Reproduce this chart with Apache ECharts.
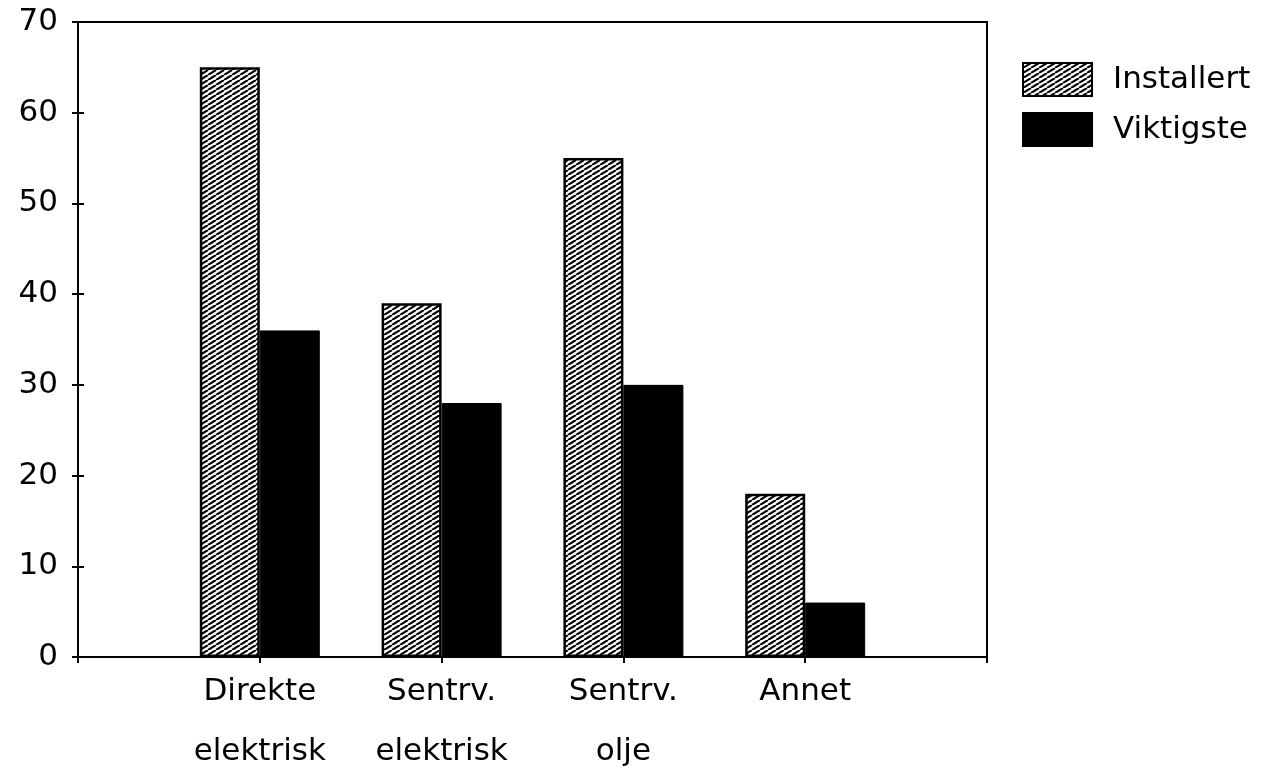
<!DOCTYPE html>
<html>
<head>
<meta charset="utf-8">
<script src="https://cdn.jsdelivr.net/npm/echarts@6/dist/echarts.min.js"></script>
<style>
html,body{margin:0;padding:0;background:#fff;}
#c{width:1277px;height:771px;}
</style>
</head>
<body>
<div id="c"></div>
<script>
const categories = ['', 'Direkte\nelektrisk', 'Sentrv.\nelektrisk', 'Sentrv.\nolje', 'Annet', ''];
const installert = [null, 65, 39, 55, 18, null];
const viktigste = [null, 36, 28, 30, 6, null];
const seriesNames = ['Installert', 'Viktigste'];
const yMin = 0, yMax = 70, yStep = 10;

const FONT = 'DejaVu Sans';

// hatch pattern
const pc = document.createElement('canvas');
pc.width = 8; pc.height = 5;
const g = pc.getContext('2d');
g.fillStyle = '#fff'; g.fillRect(0, 0, 8, 5);
g.strokeStyle = '#000'; g.lineWidth = 2.1;
[-8, 0, 8].forEach(function (dx) {
  g.beginPath(); g.moveTo(dx, 5); g.lineTo(dx + 8, 0); g.stroke();
});
const hatch = { image: pc, repeat: 'repeat' };

const chart = echarts.init(document.getElementById('c'), null, { renderer: 'canvas' });
chart.setOption({
  backgroundColor: '#fff',
  animation: false,
  grid: { left: 78, right: 290, top: 22, bottom: 114, show: true, borderColor: '#000', borderWidth: 2, containLabel: false, outerBoundsMode: 'none' },
  legend: {
    orient: 'vertical', left: 1022, top: 62, padding: 0,
    icon: 'rect', itemWidth: 69, itemHeight: 33, itemGap: 15,
    textStyle: { fontFamily: FONT, fontSize: 31, color: '#000', padding: [0, 0, 0, 16] },
    data: seriesNames
  },
  xAxis: {
    type: 'category', boundaryGap: false, data: categories,
    axisLine: { lineStyle: { color: '#000', width: 2 } },
    axisTick: { show: true, length: 6, lineStyle: { color: '#000', width: 2 } },
    axisLabel: { interval: 0, fontFamily: FONT, fontSize: 31, color: '#000', lineHeight: 60, margin: 5 },
    splitLine: { show: false }
  },
  yAxis: [{
    type: 'value', min: yMin, max: yMax, interval: yStep,
    axisLine: { show: true, lineStyle: { color: '#000', width: 2 } },
    axisTick: { show: true, length: 6, lineStyle: { color: '#000', width: 2 } },
    axisLabel: { fontFamily: FONT, fontSize: 31, color: '#000', margin: 20, padding: [8, 0, 0, 0] },
    splitLine: { show: false }
  }, {
    type: 'value', min: yMin, max: yMax, interval: yStep, position: 'left',
    axisLine: { show: false },
    axisTick: { show: true, inside: true, length: 6, lineStyle: { color: '#000', width: 2 } },
    axisLabel: { show: false },
    splitLine: { show: false }
  }],
  series: [{
    name: seriesNames[0], type: 'bar', data: installert, barWidth: 60, barGap: '0%',
    itemStyle: { color: hatch, borderColor: '#000', borderWidth: 2.5 }
  }, {
    name: seriesNames[1], type: 'bar', data: viktigste, barWidth: 60, barGap: '0%',
    itemStyle: { color: '#000', borderColor: '#000', borderWidth: 1 }
  }]
});
</script>
</body>
</html>
